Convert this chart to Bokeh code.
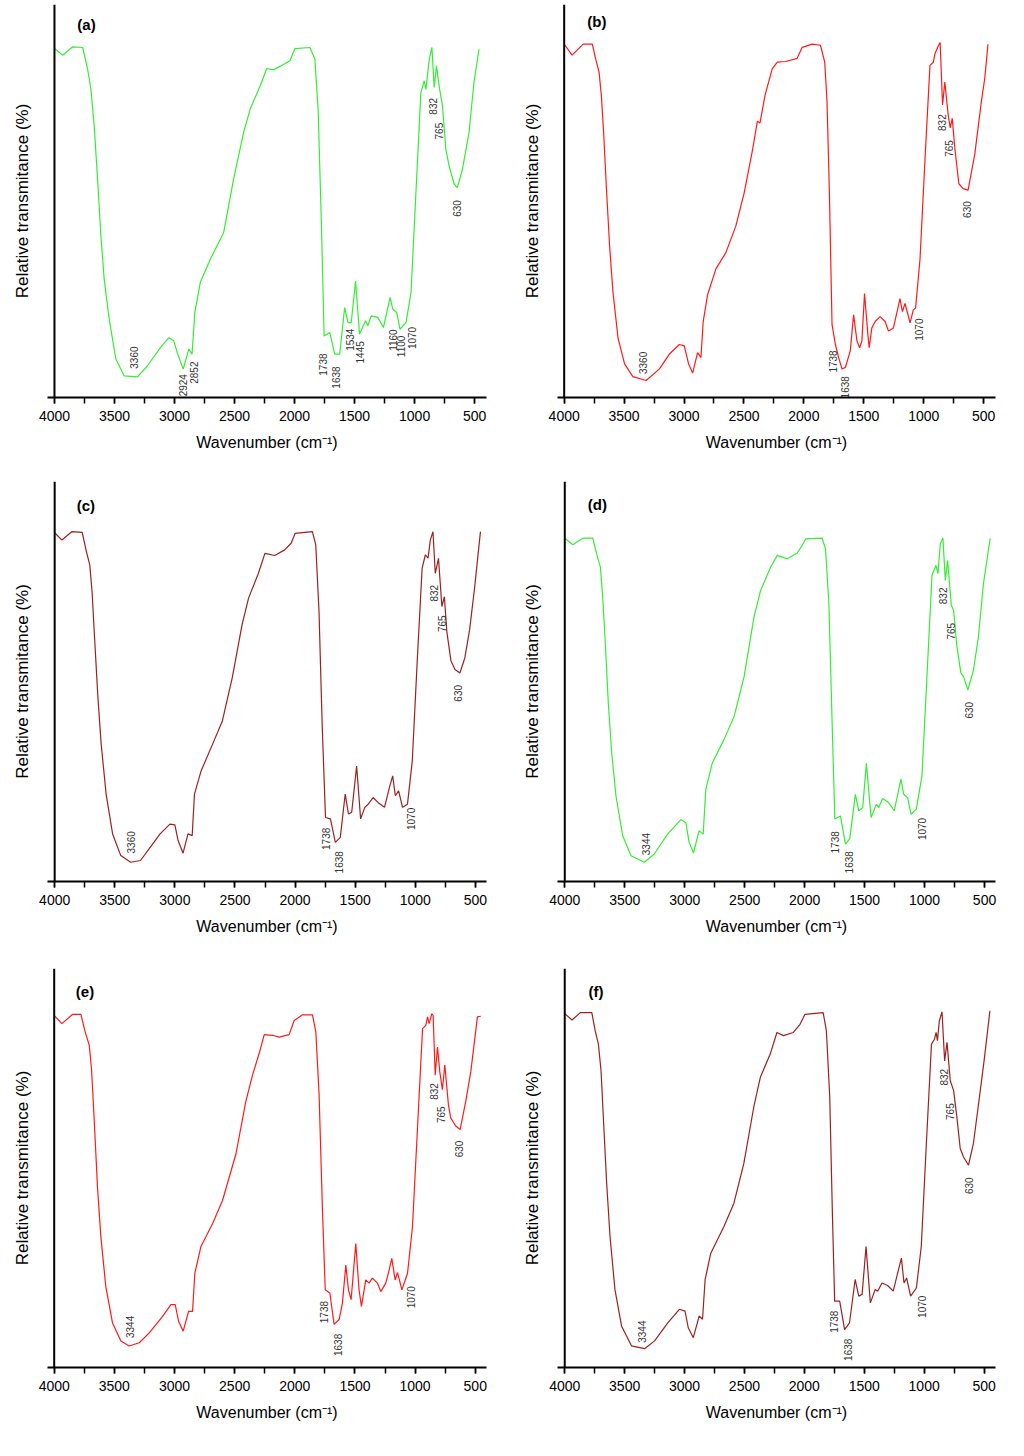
import math

from bokeh.plotting import figure
from bokeh.layouts import gridplot
from bokeh.models import Range1d, Span, Label, SingleIntervalTicker, FixedTicker
from bokeh.core.properties import value
from bokeh.embed import file_html
from bokeh.resources import INLINE

# FTIR spectra: wavenumber (cm-1) and relative transmittance
wn_a = [4000, 3931, 3848, 3765, 3724, 3696, 3669, 3641, 3613, 3586,
        3544, 3489, 3420, 3309, 3227, 3116, 3047, 3006, 2978, 2928,
        2881, 2854, 2831, 2785, 2702, 2591, 2508, 2425, 2370, 2287,
        2232, 2177, 2122, 2039, 1997, 1873, 1831, 1804, 1776, 1754,
        1707, 1666, 1624, 1583, 1555, 1528, 1492, 1459, 1409, 1390,
        1362, 1307, 1260, 1204, 1182, 1149, 1122, 1072, 1030, 989,
        948, 920, 906, 878, 856, 837, 818, 796, 768, 740,
        713, 671, 644, 602, 547, 506, 464]
t_a = [99.7, 97.8, 100.2, 100, 93.8, 88, 77.6, 62.4, 46, 33.8,
       22.4, 11, 6.2, 5.9, 9, 14.3, 17.1, 16.2, 12.9, 8.1,
       13.8, 12.4, 24.3, 32.9, 39.5, 47.1, 62.4, 75.7, 82.4, 89,
       94, 93.6, 94.6, 96.2, 99.7, 100, 96.7, 82.4, 49, 17.6,
       18.6, 12.4, 12.4, 25.7, 21.4, 21.4, 33.3, 18.1, 21.9, 20.5,
       23.3, 22.9, 20, 28.6, 25.2, 24.3, 19.5, 21.4, 30, 58.6,
       87.1, 90.5, 88, 96.7, 100, 88.6, 94.8, 89, 83.3, 71,
       66.2, 61, 60, 65.2, 75.7, 90, 99.5]

wn_b = [4000, 3934, 3842, 3765, 3737, 3709, 3690, 3670, 3648, 3621,
        3593, 3551, 3496, 3427, 3316, 3205, 3122, 3039, 2998, 2962,
        2928, 2887, 2859, 2840, 2804, 2734, 2651, 2568, 2499, 2430,
        2388, 2366, 2324, 2264, 2222, 2153, 2056, 2014, 1931, 1862,
        1826, 1807, 1787, 1765, 1737, 1710, 1682, 1654, 1613, 1585,
        1557, 1535, 1516, 1494, 1466, 1455, 1433, 1405, 1364, 1322,
        1294, 1253, 1198, 1178, 1156, 1114, 1087, 1068, 1031, 990,
        948, 920, 907, 879, 863, 843, 824, 796, 779, 762,
        741, 707, 671, 630, 574, 519, 491, 464]
t_b = [100, 96.9, 100, 100, 95.8, 92.1, 85.6, 74.5, 59.6, 42.9,
       29.9, 16.9, 9.5, 5.9, 4.8, 8.1, 12.3, 15, 14.6, 9.5,
       6.9, 12.7, 11.3, 21.5, 29, 36.4, 41, 48.5, 57.8, 69.8,
       78.2, 77.7, 85.6, 93, 94.9, 95.1, 96, 99.1, 100, 99.7,
       94.9, 83.8, 57.8, 20.6, 15, 11.3, 8.1, 8.5, 13.2, 23.4,
       16, 14.1, 16, 29.4, 17.8, 14.1, 19.7, 21.5, 22.9, 21.5,
       18.8, 19.7, 28, 24.3, 26.6, 21.1, 24.8, 25.3, 39.2, 67,
       94, 94.9, 97.2, 99.5, 100.5, 82.8, 89.3, 80, 76.3, 79,
       70.8, 60.5, 59.1, 58.7, 68.9, 83.8, 90.3, 100]

wn_c = [4000, 3940, 3858, 3771, 3736, 3708, 3689, 3668, 3640, 3613,
        3572, 3518, 3450, 3368, 3286, 3204, 3123, 3041, 3000, 2973,
        2932, 2891, 2856, 2837, 2782, 2687, 2605, 2523, 2441, 2387,
        2305, 2251, 2169, 2087, 2033, 2000, 1856, 1828, 1801, 1774,
        1747, 1706, 1665, 1624, 1583, 1556, 1529, 1488, 1455, 1420,
        1392, 1351, 1311, 1256, 1215, 1188, 1166, 1139, 1106, 1065,
        1025, 984, 943, 916, 894, 875, 853, 834, 807, 779,
        758, 738, 703, 670, 629, 588, 548, 507, 458]
t_c = [99.7, 97.6, 100, 99.8, 94.3, 90.5, 82.9, 69.6, 52.5, 39.2,
       25, 13.6, 7.4, 5.5, 6, 9.8, 13.6, 16.4, 16.2, 11.7,
       8.1, 13.6, 13.1, 25, 31.6, 39.2, 45.9, 58.2, 73.4, 81,
       88.1, 93.8, 93.2, 94.8, 96.7, 99.5, 100, 96.2, 77.2, 44,
       18.3, 17.9, 11.2, 12.6, 25, 19.3, 19.8, 33, 17.9, 21.2,
       22.1, 24, 22.6, 21.2, 26.9, 30.2, 24.5, 25.9, 21.2, 22.1,
       34.5, 63, 89.6, 93.4, 92.4, 97.6, 100, 88.1, 92.4, 78.6,
       81.4, 71.5, 63, 60.6, 59.6, 63.9, 72, 83.9, 100]

wn_d = [4000, 3933, 3850, 3767, 3731, 3703, 3684, 3662, 3637, 3609,
        3573, 3517, 3448, 3337, 3254, 3143, 3032, 2991, 2963, 2927,
        2880, 2846, 2824, 2769, 2672, 2588, 2505, 2422, 2367, 2283,
        2228, 2145, 2062, 2020, 1992, 1854, 1826, 1798, 1770, 1748,
        1701, 1660, 1624, 1577, 1549, 1516, 1485, 1446, 1402, 1383,
        1350, 1300, 1253, 1197, 1174, 1141, 1113, 1069, 1022, 980,
        938, 905, 888, 869, 847, 827, 808, 777, 758, 730,
        697, 675, 639, 592, 551, 509, 453]
t_d = [100, 98.1, 100, 100, 95, 91.6, 82.9, 69.4, 52, 37.5,
       24.9, 13.3, 7.5, 5.6, 8, 13.8, 18, 17.2, 11.4, 8.3,
       14.8, 13.8, 26.9, 34.6, 41.4, 48.1, 59.7, 77.1, 84.8, 91.6,
       95, 94, 95.7, 97.9, 99.8, 100, 96.9, 81, 45.2, 18.2,
       19.1, 10.9, 12.4, 25.4, 20.6, 21.5, 34.4, 18.6, 22.5, 21.5,
       24.2, 23, 20.6, 29.8, 25.4, 24.4, 19.6, 21.1, 30.7, 59.7,
       89.2, 92.1, 89.7, 98.4, 100.1, 87.7, 93.5, 80.5, 79, 68.4,
       60.7, 59.7, 55.8, 61.6, 71.3, 86.8, 100]

wn_e = [4000, 3936, 3848, 3778, 3742, 3709, 3690, 3667, 3640, 3612,
        3571, 3515, 3446, 3377, 3293, 3210, 3099, 3030, 2994, 2966,
        2928, 2883, 2850, 2831, 2781, 2684, 2601, 2490, 2407, 2351,
        2296, 2254, 2185, 2130, 2047, 2005, 1936, 1853, 1825, 1798,
        1770, 1747, 1709, 1673, 1631, 1604, 1576, 1554, 1532, 1493,
        1466, 1446, 1410, 1383, 1355, 1313, 1285, 1244, 1216, 1194,
        1166, 1146, 1110, 1063, 1022, 980, 938, 911, 897, 883,
        861, 850, 833, 814, 795, 773, 753, 723, 704, 662,
        626, 579, 537, 482, 454]
t_e = [99.7, 97.4, 100, 100, 95, 91.3, 84.7, 69.8, 51, 37,
       22.9, 12.6, 7.5, 6.1, 7, 9.8, 14.5, 17.8, 17.8, 13.1,
       10.3, 15.9, 15.9, 26.7, 34.2, 40.7, 47.3, 60.4, 75.4, 82.9,
       89, 94.3, 94.1, 93.6, 94.3, 98.3, 99.9, 99.9, 95, 77.2,
       44.5, 22, 21.1, 12.2, 13.6, 18.3, 29, 22, 19.2, 35.1,
       22, 17.3, 24.8, 23.9, 25.3, 23.9, 21.5, 23.9, 27.6, 30.9,
       24.8, 26.9, 22, 26.7, 39.8, 67.9, 96, 96.9, 99.3, 97.4,
       100.2, 99.7, 82.8, 90.8, 83.8, 78.7, 85.7, 74.4, 70.7, 68.4,
       67.4, 75.4, 83.8, 99.3, 99.5]

wn_f = [4000, 3939, 3870, 3774, 3746, 3719, 3697, 3675, 3650, 3622,
        3581, 3526, 3443, 3333, 3250, 3140, 3043, 2996, 2969, 2927,
        2878, 2850, 2828, 2781, 2671, 2588, 2505, 2422, 2367, 2285,
        2229, 2174, 2092, 2036, 1995, 1843, 1816, 1788, 1766, 1747,
        1705, 1664, 1623, 1576, 1546, 1518, 1485, 1449, 1408, 1388,
        1352, 1305, 1258, 1214, 1190, 1168, 1146, 1113, 1065, 1024,
        983, 939, 914, 900, 889, 873, 851, 829, 809, 782,
        754, 727, 699, 671, 630, 589, 553, 498, 451]
t_f = [99.7, 97.9, 100, 100, 94.9, 91.1, 83.6, 68.7, 51.9, 36.9,
       22, 11.7, 6.1, 5.3, 7.5, 12.6, 16.4, 15.9, 11.2, 8.4,
       14.5, 13.6, 24.8, 32.2, 39.7, 46.3, 57.5, 73.4, 81.8, 88.3,
       94.4, 93.5, 94.4, 96.7, 99.5, 100, 94.9, 76.2, 43.5, 18.7,
       18.7, 10.7, 12.6, 24.8, 20.1, 20.6, 34.1, 18.2, 22, 21.5,
       23.8, 23.1, 21.5, 27.6, 30.8, 23.8, 25.2, 20.1, 22.4, 34.1,
       62.1, 91.1, 92.5, 94.4, 92.1, 97.7, 100.2, 86.4, 91.6, 80.8,
       78, 70.6, 61.7, 59.3, 57, 63.1, 72.4, 86.9, 100.5]

# band labels: text, wavenumber, height
tags_a = [("3360", 3337, 11.4), ("2924", 2928, 3.5), ("2852", 2840, 7.1),
          ("1738", 1762, 9.4), ("1638", 1657, 5.7), ("1534", 1541, 16.5),
          ("1445", 1459, 12.9), ("1160", 1182, 16.4), ("1100", 1113, 14.6),
          ("1070", 1022, 17), ("832", 851, 83.2), ("765", 796, 76.1),
          ("630", 644, 54)]
tags_b = [("3360", 3344, 9.8), ("1738", 1757, 10.2), ("1638", 1654, 2.9),
          ("1070", 1037, 19.2), ("832", 851, 77.8), ("765", 790, 70.5),
          ("630", 635, 53.2)]
tags_c = [("3360", 3368, 11.2), ("1738", 1747, 12.2), ("1638", 1638, 5.5),
          ("1070", 1038, 17.9), ("832", 847, 82.4), ("765", 779, 73.7),
          ("630", 643, 53.8)]
tags_d = [("3344", 3323, 10.9), ("1738", 1748, 11.4), ("1638", 1632, 5.6),
          ("1070", 1022, 15.3), ("832", 847, 83.2), ("765", 777, 72.9),
          ("630", 633, 49.9)]
tags_e = [("3344", 3371, 11.5), ("1738", 1761, 15.7), ("1638", 1639, 6.4),
          ("1070", 1035, 19.9), ("832", 847, 78.2), ("765", 786, 71.6),
          ("630", 633, 61.9)]
tags_f = [("3344", 3355, 10.1), ("1738", 1752, 12.9), ("1638", 1637, 5),
          ("1070", 1016, 17.1), ("832", 837, 81.8), ("765", 782, 72.1),
          ("630", 624, 51.2)]

GREEN = "#33ee33"
RED = "#ff1a1a"
MAROON = "#9b2020"
FONT = "Liberation Sans"


def make_panel(name, wn, t, tags, color, geo):
    # geo: y-axis x, frame top, x-axis y, 100% level y, px per cm-1, label left, label top
    yx, top, xb, plat, pxcm, lx, ly = geo
    left = round(yx - 7)
    right = round(yx + 3500 * pxcm + 11.5)
    bottom = round(xb)
    x0 = 4000 + (yx - left) / pxcm
    x1 = 500 - (right - (yx + 3500 * pxcm)) / pxcm
    fh = bottom - top
    y1 = fh * 100.0 / (bottom - plat)

    p = figure(width=504, height=480, title=None,
               x_range=Range1d(x0, x1), y_range=Range1d(0, y1),
               min_border_left=left, min_border_right=504 - right,
               min_border_top=top, min_border_bottom=480 - bottom,
               output_backend="svg", toolbar_location=None)
    p.outline_line_color = None
    p.xgrid.visible = False
    p.ygrid.visible = False

    p.line(wn, t, line_color=color, line_width=1.2)

    p.text(x=[g[1] for g in tags], y=[g[2] for g in tags], text=[g[0] for g in tags],
           angle=math.pi / 2, text_align="center", text_baseline="middle",
           text_font=value(FONT), text_font_size="10px", text_color="#333333")

    p.add_layout(Span(location=4000, dimension="height",
                      line_color="black", line_width=2))
    p.add_layout(Label(x=x0 - (lx - left) / pxcm, y=y1 - (ly - top) * y1 / fh,
                       text=name, text_font=FONT, text_font_size="15px",
                       text_font_style="bold", text_align="left",
                       text_baseline="top", text_color="black"))

    xa = p.xaxis[0]
    xa.ticker = SingleIntervalTicker(interval=500, num_minor_ticks=2)
    xa.axis_line_width = 2
    xa.axis_line_color = "black"
    xa.major_tick_out = 6
    xa.major_tick_in = 0
    xa.minor_tick_out = 6
    xa.minor_tick_in = 0
    xa.major_tick_line_width = 1.5
    xa.minor_tick_line_width = 1.5
    xa.major_label_standoff = 7
    xa.major_label_text_font = FONT
    xa.major_label_text_font_size = "14px"
    xa.major_label_text_color = "black"
    xa.axis_label = "Wavenumber (cm\u207b\u00b9)"
    xa.axis_label_text_font = FONT
    xa.axis_label_text_font_size = "16px"
    xa.axis_label_text_font_style = "normal"
    xa.axis_label_text_color = "black"
    xa.axis_label_standoff = 10

    ya = p.yaxis[0]
    ya.ticker = FixedTicker(ticks=[])
    ya.axis_line_color = None
    ya.major_tick_out = 0
    ya.major_tick_in = 0
    ya.minor_tick_out = 0
    ya.minor_tick_in = 0
    ya.major_label_standoff = 0
    ya.axis_label = "Relative transmitance (%)"
    ya.axis_label_text_font = FONT
    ya.axis_label_text_font_size = "17px"
    ya.axis_label_text_font_style = "normal"
    ya.axis_label_text_color = "black"
    ya.axis_label_standoff = 16
    return p


pa = make_panel("(a)", wn_a, t_a, tags_a, GREEN, (52, 4, 397, 47, 0.1206, 75, 15.3))
pb = make_panel("(b)", wn_b, t_b, tags_b, RED, (57.7, 0, 399.3, 40.3, 0.1204, 81, 8.7))
pc = make_panel("(c)", wn_c, t_c, tags_c, MAROON, (51.3, 0, 401.3, 50.3, 0.1224, 73.7, 15.3))
pd_ = make_panel("(d)", wn_d, t_d, tags_d, GREEN, (60.3, 1, 403, 58, 0.1202, 83.3, 15.3))
pe = make_panel("(e)", wn_e, t_e, tags_e, RED, (53.7, 8, 410.3, 54.3, 0.1203, 75.3, 22.7))
pf = make_panel("(f)", wn_f, t_f, tags_f, MAROON, (59.3, 6, 407, 50.3, 0.1209, 83.3, 20.3))

grid = gridplot([[pa, pb], [pc, pd_], [pe, pf]], toolbar_location=None)

open("out.html", "w").write(file_html(grid, INLINE))
